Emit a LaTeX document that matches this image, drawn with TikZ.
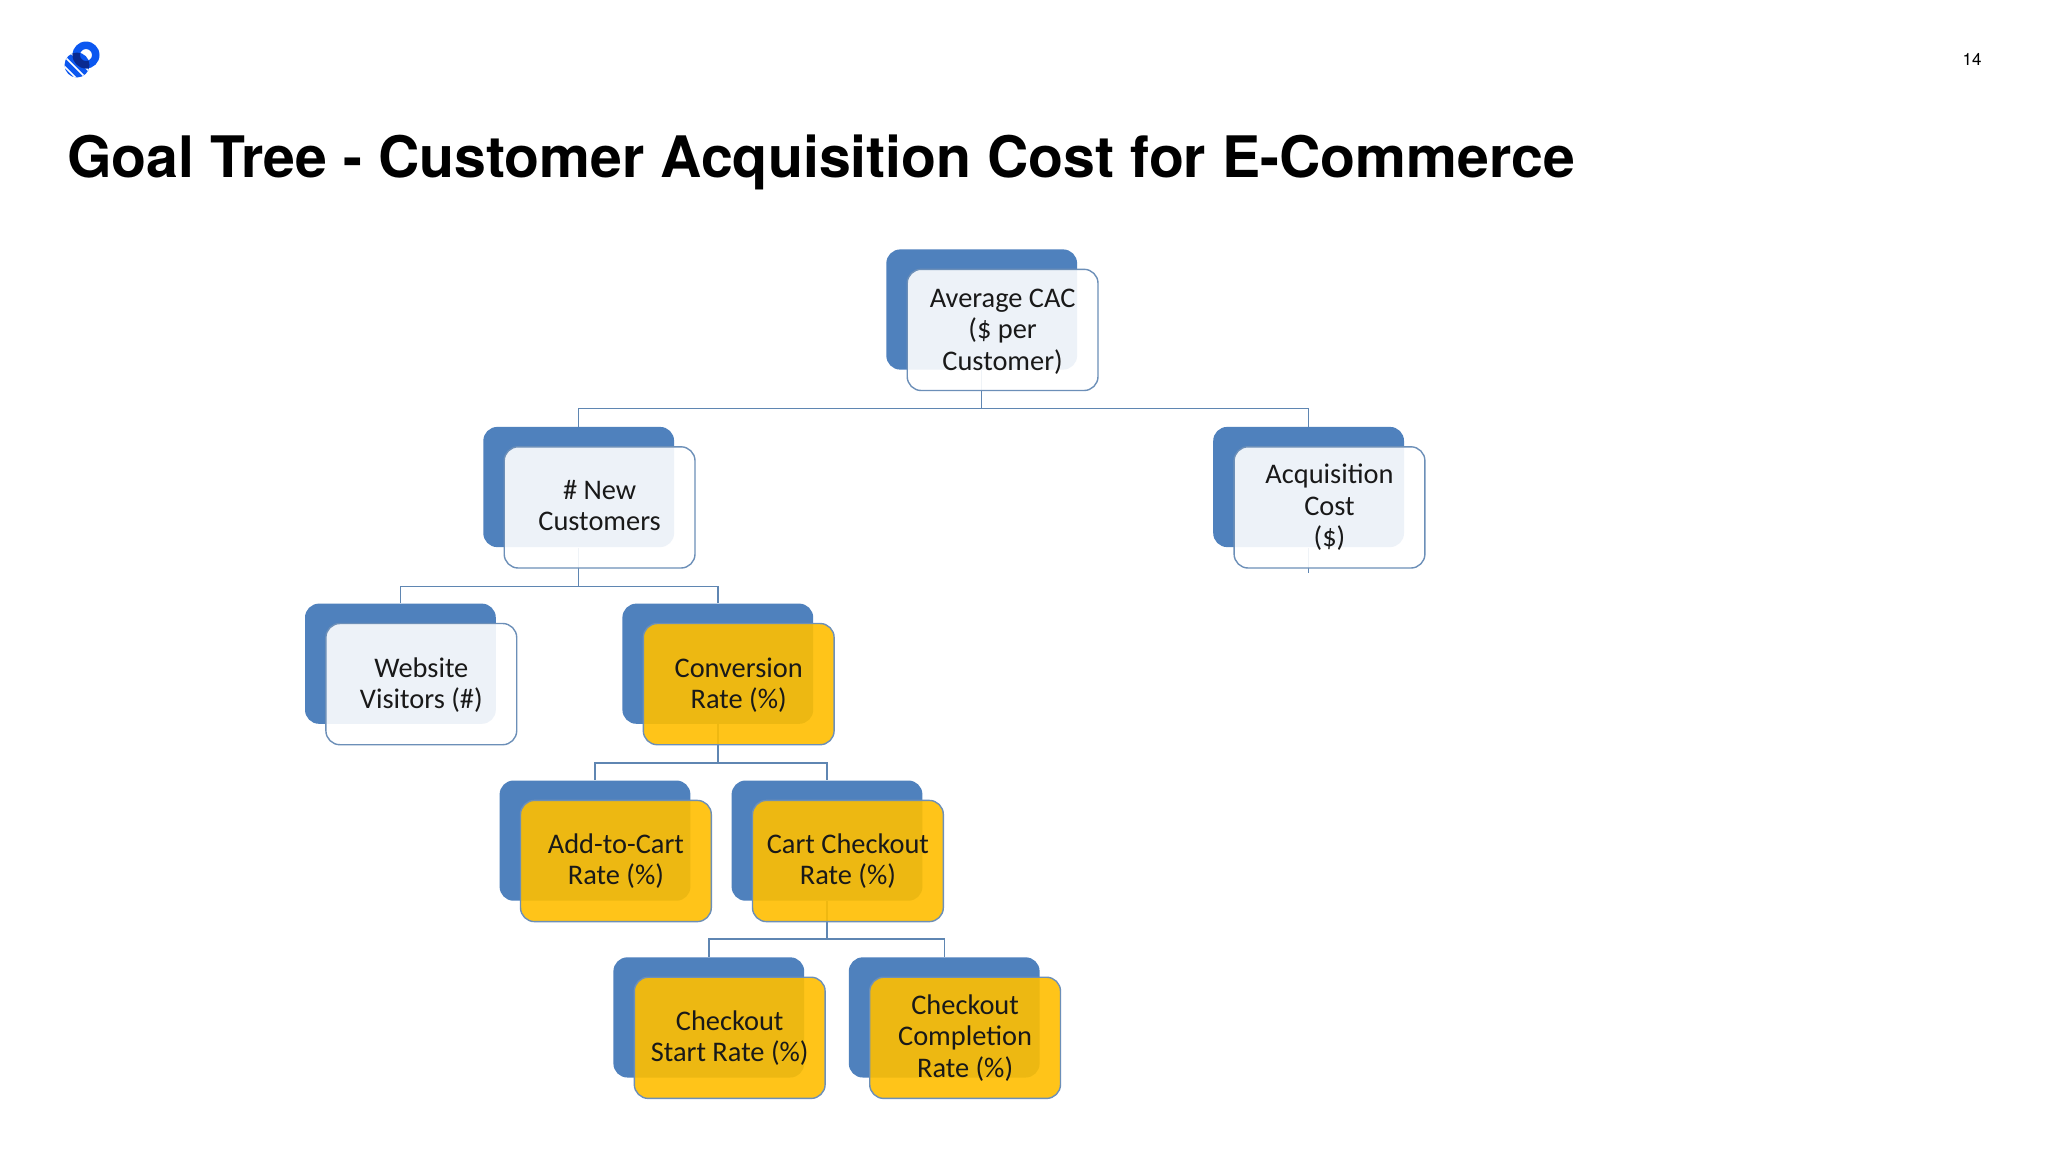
\documentclass[tikz,border=0pt]{standalone}
\usepackage{fontspec}
\usetikzlibrary{backgrounds}
\setmainfont{Carlito}
\newfontfamily\headfont{TeX Gyre Heros}
\definecolor{backblue}{HTML}{4F81BD}
\definecolor{framec}{HTML}{6C8FB8}
\definecolor{wirec}{HTML}{5F86B2}
\definecolor{goldc}{HTML}{FFBE00}
\definecolor{logoblue}{HTML}{0B57F0}
\definecolor{logodark}{HTML}{0A2A90}
\tikzset{
  x=0.5pt,y=-0.5pt,
  backbox/.style={rectangle,rounded corners=7pt,fill=backblue,minimum width=95.4pt,minimum height=60.1pt,inner sep=0pt},
  frontbox/.style={rectangle,rounded corners=7pt,draw=framec,line width=0.7pt,fill=#1,fill opacity=0.9,text opacity=1,
    minimum width=95.4pt,minimum height=60.6pt,inner sep=0pt,align=center,font=\fontsize{14.2}{15.7}\selectfont,text=black!90},
  wire/.style={draw=wirec,line width=0.7pt}
}
% name, x, y, fill, text shift, text
\newcommand{\treebox}[6]{%
  \node[backbox] (#1B) at (#2,#3) {};
  \node[frontbox=#4] (#1F) at (#2+20.9,#3+20.4) {};
  \node[inner sep=0pt,align=center,font=\fontsize{14.2}{15.7}\selectfont,text=black!90] (#1T) at (#2+20.9,#3+20.4+#5) {#6};
}
\begin{document}
\begin{tikzpicture}
\useasboundingbox (0,0) rectangle (2048,1152);

% logo
\begin{scope}
  \fill[logoblue] (77,65) circle[radius=12.5];
  \begin{scope}
    \clip (77,65) circle[radius=12.5];
    \draw[white,line width=0.8pt] (60,62) -- (82,84) (62,54) -- (88,80) (68,50) -- (94,76);
  \end{scope}
  \fill[logoblue,even odd rule] (86,55) circle[radius=13.5] (86,55) circle[radius=6];
  \begin{scope}
    \clip (77,65) circle[radius=12.5];
    \fill[logodark,even odd rule] (86,55) circle[radius=13.5] (86,55) circle[radius=6];
  \end{scope}
\end{scope}

\node[anchor=base west,inner sep=0pt,font=\headfont\bfseries\fontsize{28.6}{34}\selectfont] (title) at (67,177) {Goal Tree - Customer Acquisition Cost for E-Commerce};
\node[anchor=center,inner sep=0pt,font=\headfont\fontsize{8.5}{10}\selectfont] (page) at (1972,59) {14};

% junctions
\coordinate (j1) at (981.7,408.5);
\coordinate (j2) at (578.7,586.5);
\coordinate (j3) at (717.8,762.8);
\coordinate (j4) at (827,939);
\coordinate (acqEnd) at (1308.6,572.5);

\treebox{avg}{981.7}{309.5}{white}{1.5}{Average CAC\\(\$ per\\Customer)}
\treebox{new}{578.7}{487}{white}{-2}{\# New\\Customers}
\treebox{acq}{1308.6}{487}{white}{0}{Acquisition\\Cost\\(\$)}
\treebox{web}{400.4}{663.7}{white}{1}{Website\\Visitors (\#)}
\treebox{conv}{717.8}{663.7}{goldc}{1}{Conversion\\Rate (\%)}
\treebox{add}{595}{840.6}{goldc}{0}{Add-to-Cart\\Rate (\%)}
\treebox{cart}{827}{840.6}{goldc}{0}{Cart Checkout\\Rate (\%)}
\treebox{start}{708.8}{1017.4}{goldc}{0}{Checkout\\Start Rate (\%)}
\treebox{comp}{944.2}{1017.4}{goldc}{0}{Checkout\\Completion\\Rate (\%)}

% connectors run beneath the boxes
\begin{scope}[on background layer]
\fill[white] (0,0) rectangle (2048,1152);
\draw[wire] (avgB.south) -- (j1);
\draw[wire] (newB.north) |- (j1) -| (acqB.north);
\draw[wire] (newB.south) -- (j2);
\draw[wire] (webB.north) |- (j2) -| (convB.north);
\draw[wire] (convB.south) -- (j3);
\draw[wire] (addB.north) |- (j3) -| (cartB.north);
\draw[wire] (cartB.south) -- (j4);
\draw[wire] (startB.north) |- (j4) -| (compB.north);
\draw[wire] (acqB.south) -- (acqEnd);
\end{scope}
\end{tikzpicture}
\end{document}
